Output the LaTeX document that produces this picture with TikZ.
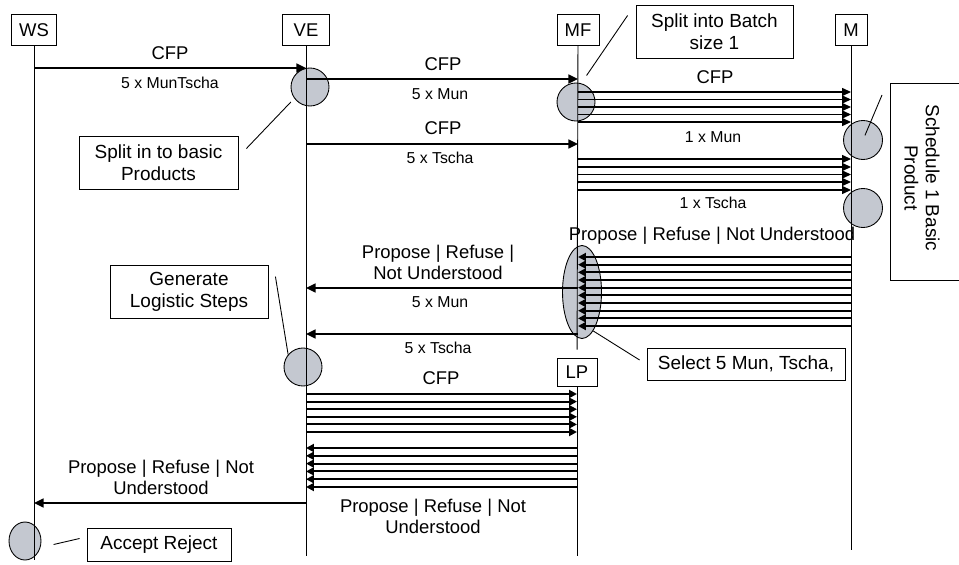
\documentclass[tikz,border=0pt]{standalone}
\usepackage{fontspec}
\setmainfont{Liberation Sans}
\usetikzlibrary{arrows.meta, shapes.geometric}

\definecolor{actgray}{RGB}{196,200,208}

\tikzset{
  actor/.style={draw, line width=0.5pt, inner sep=0pt, minimum height=0.62cm, font=\fontsize{10.5}{12}\selectfont},
  note/.style={draw, line width=0.5pt, fill=white, align=center, inner sep=0pt, font=\fontsize{10.8}{12.5}\selectfont},
  lbl/.style={font=\fontsize{10.5}{12}\selectfont, align=center},
  sml/.style={font=\fontsize{9}{11}\selectfont},
  life/.style={line width=0.5pt},
  pin/.style={line width=0.5pt},
  act/.style={draw, line width=0.5pt, fill=actgray, inner sep=0pt},
  msg/.style={line width=1.2pt, -{Triangle[length=5.5pt,width=5pt]}},
  fanthin/.style={line width=0.6pt, -{Triangle[length=5pt,width=4.5pt]}},
  fan/.style={line width=1.1pt, -{Triangle[length=4.5pt,width=4.5pt]}},
}

\begin{document}
\begin{tikzpicture}[x=0.02cm, y=-0.02cm]
  \useasboundingbox (0,0) rectangle (959,564);

  % activation circles (drawn first, lines go over them)
  \node[act, circle, minimum size=0.76cm] (ve1) at (310,87) {};
  \node[act, circle, minimum size=0.76cm] (mf1) at (576,102) {};
  \node[act, circle, minimum size=0.78cm] (m1) at (863,140) {};
  \node[act, circle, minimum size=0.78cm] (m2) at (863,208) {};
  \node[act, ellipse, minimum width=0.78cm, minimum height=1.86cm] (mfe) at (582,292) {};
  \node[act, circle, minimum size=0.76cm] (ve2) at (303,367) {};
  \node[act, ellipse, minimum width=0.64cm, minimum height=0.76cm] (ws1) at (25,541) {};

  % actors and lifelines
  \node[actor, minimum width=0.9cm] (ws) at (34,30) {WS};
  \node[actor, minimum width=0.94cm] (ve) at (306,30) {VE};
  \node[actor, minimum width=0.84cm] (mf) at (578,30) {MF};
  \node[actor, minimum width=0.64cm] (m) at (851,30) {M};
  \node[actor, minimum width=0.8cm, minimum height=0.56cm] (lp) at (577,372) {LP};

  \draw[life] (ws) -- (ws |- 0,560);
  \draw[life] (ve) -- (ve |- 0,556);
  \draw[life, shorten >=0.16cm] (mf) -- (lp);
  \draw[life] (lp) -- (lp |- 0,556);
  \draw[life] (m) -- (m |- 0,550);

  % CFP from WS down to the basic products
  \draw[msg] (ws |- 0,68) -- (ve |- 0,68);
  \node[lbl] (cfp1) at (170,53) {CFP};
  \node[sml] (q1) at (170,83) {5 x MunTscha};

  \draw[msg] (ve |- 0,79) -- (mf |- 0,79);
  \node[lbl] (cfp2) at (443,64) {CFP};
  \node[sml] (q2) at (440,94) {5 x Mun};

  \draw[msg] (ve |- 0,144) -- (mf |- 0,144);
  \node[lbl] (cfp3) at (443,128) {CFP};
  \node[sml] (q3) at (440,158) {5 x Tscha};

  % batch size 1 to M
  \foreach \y in {92,99.5,107,114.5,122}
    \draw[fanthin] (mf |- 0,\y) -- (m |- 0,\y);
  \foreach \y in {159,167,174.5,182,190}
    \draw[fanthin] (mf |- 0,\y) -- (m |- 0,\y);
  \node[lbl] (cfp4) at (715,77) {CFP};
  \node[sml] (q4) at (713,137) {1 x Mun};
  \node[sml] (q5) at (713,203) {1 x Tscha};

  % answers from M
  \node[lbl] (ans1) at (712,236) {Propose | Refuse | Not Understood};
  \foreach \i in {0,...,9}
    \draw[fan] (m |- 0,257+7.67*\i) -- (mf |- 0,257+7.67*\i);

  \draw[msg] (mf |- 0,288) -- (ve |- 0,288);
  \draw[msg] (mf |- 0,334) -- (ve |- 0,334);
  \node[lbl] (ans2) at (438,262) {Propose | Refuse |\\Not Understood};
  \node[sml] (q6) at (440,302) {5 x Mun};
  \node[sml] (q7) at (438,348) {5 x Tscha};

  % logistic steps with LP
  \node[lbl] (cfp5) at (441,378) {CFP};
  \foreach \i in {0,...,5}
    \draw[fan] (ve |- 0,394+7.6*\i) -- (lp |- 0,394+7.6*\i);
  \foreach \i in {0,...,5}
    \draw[fan] (lp |- 0,448+7.8*\i) -- (ve |- 0,448+7.8*\i);
  \node[lbl] (ans3) at (433,516) {Propose | Refuse | Not\\Understood};

  \draw[msg] (ve |- 0,503) -- (ws |- 0,503);
  \node[lbl] (ans4) at (161,477) {Propose | Refuse | Not\\Understood};

  % notes
  \node[note, minimum width=3.18cm, minimum height=1.06cm] (basic) at (158.5,162.5) {Split in to basic\\Products};
  \draw[pin, shorten >=0.1cm] (basic.east) ++(8,-14) -- (ve1.216);

  \node[note, minimum width=3.14cm, minimum height=1.06cm] (batch) at (714.5,31.5) {Split into Batch\\size 1};
  \draw[pin] (batch.west) ++(-8,-16) -- ++(-41,60);

  \draw[line width=0.5pt] (959,83) -- (890,83) -- (890,280) -- (959,280);
  \node[lbl, font=\fontsize{10.8}{12}\selectfont, rotate=-90] (sched) at (922,178) {Schedule 1 Basic\\Product};
  \coordinate (schedpin) at (882,95);
  \draw[pin, shorten >=0.1cm] (schedpin) -- (m1.center);

  \node[note, minimum width=3.16cm, minimum height=1.06cm] (gen) at (189,291.5) {Generate\\Logistic Steps};
  \draw[pin] (gen.north east) ++(7,12) -- (ve2.140);

  \node[note, minimum width=3.96cm, minimum height=0.64cm] (select) at (746,364) {Select 5 Mun, Tscha,};
  \draw[pin] (select.west) ++(-7,-4) -- (mfe.-74);

  \node[note, minimum width=2.88cm, minimum height=0.66cm] (accept) at (159,544.5) {Accept Reject};
  \draw[pin] (accept.west) ++(-7,-6) -- ++(-26,6);
\end{tikzpicture}
\end{document}
